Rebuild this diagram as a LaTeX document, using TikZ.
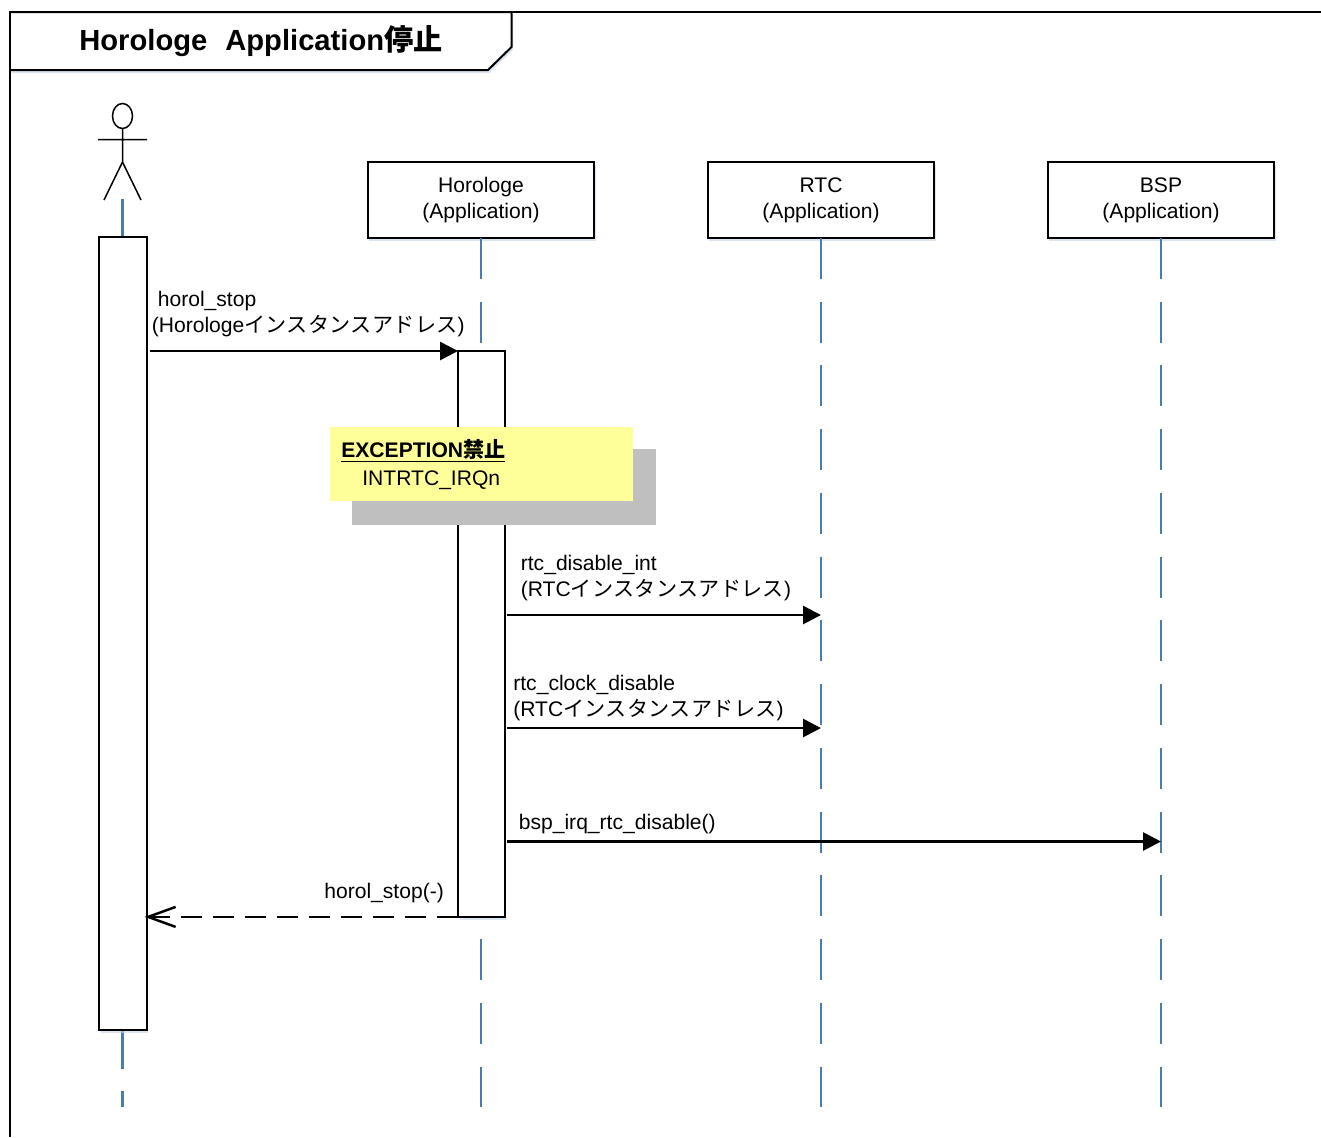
\documentclass[tikz,border=0pt]{standalone}
\usepackage{fontspec}
\setmainfont{Liberation Sans}
\newfontfamily\cjk{Noto Sans CJK JP}
\newfontfamily\kana[LetterSpace=1.7]{Noto Sans CJK JP}
\usetikzlibrary{arrows.meta,shadows}
\definecolor{lifeblue}{HTML}{4A7DAE}
\definecolor{softblue}{HTML}{C5D6E8}
\definecolor{notefill}{HTML}{FFFF99}
\definecolor{notegray}{HTML}{BFBFBF}
\tikzset{
	softshadow/.style={drop shadow={shadow xshift=0.03cm,shadow yshift=-0.06cm,fill=softblue,opacity=0.6}},
	classbox/.style={draw,fill=white,line width=0.04cm,inner sep=0,outer sep=0,minimum width=4.54cm,minimum height=1.52cm,align=center,softshadow,font=\fontsize{12}{14.8}\selectfont},
	activebar/.style={draw,fill=white,line width=0.04cm,inner sep=0,outer sep=0,anchor=north west,softshadow},
	lifeline/.style={draw=lifeblue,line width=0.05cm,dash pattern=on 0.82cm off 0.455cm},
	msgtext/.style={anchor=base west,inner sep=0,align=left,font=\fontsize{12}{15}\selectfont},
	callarrow/.style={line width=0.055cm,-{Triangle[length=0.36cm,width=0.36cm]}},
	backarrow/.style={line width=0.055cm,dash pattern=on 0.43cm off 0.21cm,shorten >=-0.05cm,-{Straight Barb[length=0.55cm,width=0.4cm,line width=0.05cm]}}
}
\begin{document}
\begin{tikzpicture}[x=0.02cm,y=-0.02cm]
	\useasboundingbox (0,0) rectangle (1321,1137);
	\fill[white] (0,0) rectangle (1321,1137);
	\draw[line width=0.04cm] (10,1137) -- (10,12) -- (1321,12);
	\draw[line width=0.04cm,fill=white,softshadow] (10,12) -- (511.5,12) -- (511.5,47) -- (488,70) -- (10,70) -- cycle;
	\node[anchor=base west,inner sep=0,font=\fontsize{16.6}{20}\selectfont\bfseries] (title) at (79,50) {Horologe\hspace{0.36cm}Application{\cjk 停止}};

	\draw[line width=0.03cm] (122.5,116) ellipse (10 and 12.5);
	\coordinate (head) at (122.5,128.5);
	\coordinate (hip) at (122.5,162);
	\coordinate (armL) at (98,139.5);
	\coordinate (armR) at (147,139.5);
	\coordinate (legL) at (104,200);
	\coordinate (legR) at (141,200);
	\draw[line width=0.03cm] (head) -- (hip) (armL) -- (armR) (legL) -- (hip) -- (legR);

	\node[classbox] (horologe) at (481,200) {Horologe\\(Application)};
	\node[classbox] (rtc) at (821,200) {RTC\\(Application)};
	\node[classbox] (bsp) at (1161,200) {BSP\\(Application)};

	\coordinate (actorTop) at (122.5,199);
	\coordinate (actorEnd) at (122.5,1107);
	\coordinate (horologeEnd) at (481,1107);
	\coordinate (rtcEnd) at (821,1107);
	\coordinate (bspEnd) at (1161,1107);
	\draw[lifeline] (actorTop) -- (actorEnd);
	\draw[lifeline] (horologe.south) -- (horologeEnd);
	\draw[lifeline] (rtc.south) -- (rtcEnd);
	\draw[lifeline] (bsp.south) -- (bspEnd);

	\node[activebar,minimum width=0.96cm,minimum height=15.86cm] (actorbar) at (99,237) {};
	\node[activebar,minimum width=0.94cm,minimum height=11.32cm] (horologebar) at (458,351) {};

	\fill[notegray] (352,449) rectangle (656,525);
	\node[fill=notefill,anchor=north west,inner sep=0,outer sep=0,minimum width=6.06cm,minimum height=1.5cm] (note) at (330,426.5) {};
	\node[msgtext] (notehead) at (341,457) {\underline{\bfseries EXCEPTION{\cjk 禁止}}};
	\node[msgtext] (notebody) at (362,485) {INTRTC\_IRQn};

	\coordinate (stopFrom) at (150,351);
	\coordinate (disableFrom) at (507,615);
	\coordinate (disableTo) at (821,615);
	\coordinate (clockFrom) at (507,728);
	\coordinate (clockTo) at (821,728);
	\coordinate (bspFrom) at (507,841.5);
	\coordinate (bspTo) at (1161,841.5);
	\draw[callarrow] (stopFrom) -- (horologebar.north west);
	\draw[callarrow] (disableFrom) -- (disableTo);
	\draw[callarrow] (clockFrom) -- (clockTo);
	\draw[callarrow] (bspFrom) -- (bspTo);
	\draw[backarrow] (horologebar.south west) -- (horologebar.south west -| actorbar.east);

	\node[msgtext] (stoplabel) at (151.5,332.5) {\hspace{0.12cm}horol\_stop\\(Horologe{\kana インスタンスアドレス})};
	\node[msgtext] (disablelabel) at (520.5,596.5) {rtc\_disable\_int\\(RTC{\kana インスタンスアドレス})};
	\node[msgtext] (clocklabel) at (513,716.5) {rtc\_clock\_disable\\(RTC{\kana インスタンスアドレス})};
	\node[msgtext] (bsplabel) at (518.5,829) {bsp\_irq\_rtc\_disable()};
	\node[msgtext] (backlabel) at (324,898) {horol\_stop(-)};
\end{tikzpicture}
\end{document}
